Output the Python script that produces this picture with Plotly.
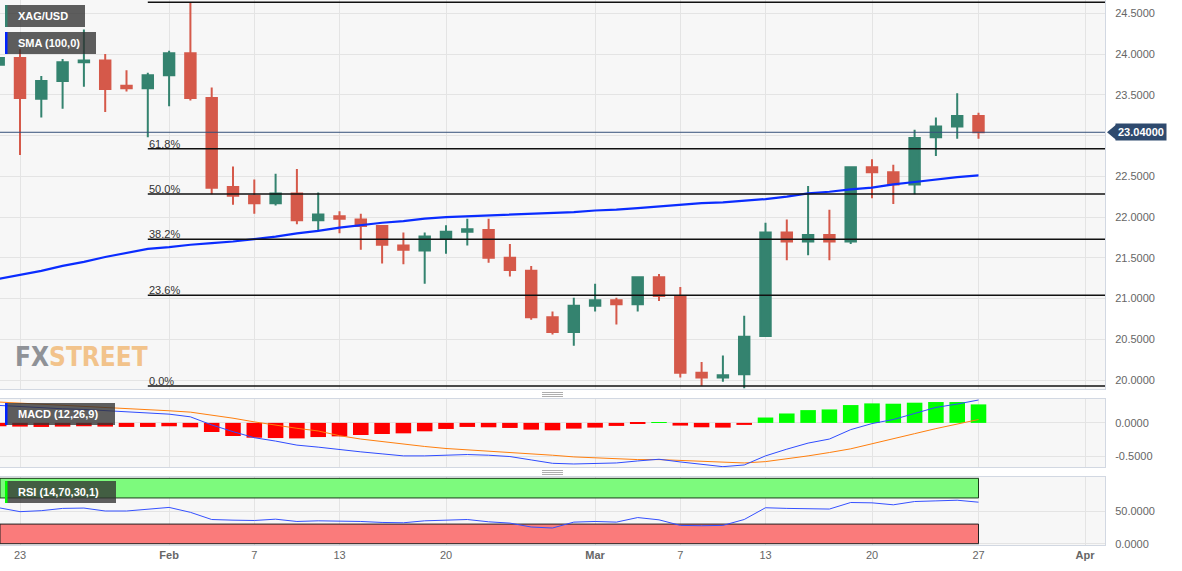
import plotly.graph_objects as go
import pandas as pd

# ---------------- data ----------------
dates = ["2023-01-20", "2023-01-23", "2023-01-24", "2023-01-25", "2023-01-26", "2023-01-27",
         "2023-01-30", "2023-01-31", "2023-02-01", "2023-02-02", "2023-02-03",
         "2023-02-06", "2023-02-07", "2023-02-08", "2023-02-09", "2023-02-10",
         "2023-02-13", "2023-02-14", "2023-02-15", "2023-02-16", "2023-02-17",
         "2023-02-20", "2023-02-21", "2023-02-22", "2023-02-23", "2023-02-24",
         "2023-02-27", "2023-02-28", "2023-03-01", "2023-03-02", "2023-03-03",
         "2023-03-06", "2023-03-07", "2023-03-08", "2023-03-09", "2023-03-10",
         "2023-03-13", "2023-03-14", "2023-03-15", "2023-03-16", "2023-03-17",
         "2023-03-20", "2023-03-21", "2023-03-22", "2023-03-23", "2023-03-24",
         "2023-03-27"]

open_ = [23.87, 23.95, 23.45, 23.67, 23.90, 23.92, 23.61, 23.58, 23.74, 24.01, 23.46,
         22.37, 22.26, 22.17, 22.29, 21.96, 22.01, 21.97, 21.89, 21.65, 21.59,
         21.73, 21.82, 21.84, 21.50, 21.34, 20.77, 20.59, 20.91, 20.98, 20.93,
         21.26, 21.02, 20.09, 20.03, 20.07, 20.54, 21.81, 21.70, 21.78, 21.70,
         22.61, 22.55, 22.40, 22.98, 23.11, 23.24]
high = [24.07, 24.06, 23.73, 23.94, 24.30, 24.00, 23.80, 23.77, 24.04, 24.635, 23.59,
        22.62, 22.46, 22.53, 22.59, 22.30, 22.07, 22.04, 21.90, 21.81, 21.81,
        21.90, 21.98, 21.98, 21.67, 21.40, 20.84, 21.01, 21.18, 21.01, 21.27,
        21.30, 21.14, 20.22, 20.30, 20.79, 21.93, 21.97, 22.38, 22.09, 22.62,
        22.71, 22.64, 23.07, 23.22, 23.52, 23.28]
low = [23.71, 22.76, 23.22, 23.33, 23.60, 23.29, 23.54, 22.98, 23.36, 23.43, 22.28,
       22.15, 22.04, 22.14, 21.91, 21.84, 21.80, 21.60, 21.43, 21.42, 21.18,
       21.55, 21.65, 21.44, 21.27, 20.74, 20.56, 20.42, 20.84, 20.68, 20.84,
       20.97, 20.03, 19.93, 19.98, 19.90, 20.53, 21.47, 21.53, 21.47, 21.67,
       22.23, 22.16, 22.28, 22.75, 22.96, 22.96]
close = [23.95, 23.46, 23.67, 23.90, 23.92, 23.57, 23.58, 23.74, 24.01, 23.46, 22.36,
         22.26, 22.17, 22.29, 21.96, 22.03, 21.98, 21.89, 21.66, 21.60, 21.76,
         21.82, 21.85, 21.50, 21.35, 20.77, 20.59, 20.91, 20.98, 20.93, 21.26,
         21.03, 20.09, 20.03, 20.06, 20.53, 21.81, 21.70, 21.78, 21.70, 22.61,
         22.55, 22.40, 22.97, 23.11, 23.24, 23.04]

sma100 = [21.24, 21.29, 21.34, 21.40, 21.45, 21.51, 21.56, 21.61, 21.63, 21.66, 21.68,
          21.70, 21.73, 21.76, 21.80, 21.83, 21.87, 21.90, 21.93, 21.95, 21.98,
          22.00, 22.01, 22.02, 22.03, 22.04, 22.05, 22.06, 22.08, 22.09, 22.11,
          22.13, 22.15, 22.17, 22.18, 22.20, 22.22, 22.25, 22.29, 22.31, 22.34,
          22.36, 22.40, 22.43, 22.46, 22.49, 22.51]

macd_line = [0.26, 0.24, 0.22, 0.21, 0.20, 0.18, 0.16, 0.14, 0.13, 0.09, -0.03,
             -0.13, -0.22, -0.27, -0.33, -0.36, -0.40, -0.43, -0.46, -0.49, -0.49,
             -0.48, -0.47, -0.48, -0.50, -0.55, -0.60, -0.61, -0.60, -0.595, -0.565,
             -0.54, -0.58, -0.62, -0.65, -0.625, -0.49, -0.39, -0.30, -0.24, -0.10,
             -0.01, 0.05, 0.14, 0.23, 0.28, 0.34]
signal_line = [0.31, 0.295, 0.28, 0.265, 0.25, 0.235, 0.22, 0.20, 0.18, 0.16, 0.12,
               0.07, 0.015, -0.035, -0.08, -0.12, -0.19, -0.24, -0.28, -0.31, -0.35,
               -0.38, -0.40, -0.415, -0.43, -0.45, -0.48, -0.505, -0.52, -0.535, -0.545,
               -0.545, -0.56, -0.575, -0.59, -0.595, -0.575, -0.535, -0.49, -0.44, -0.385,
               -0.31, -0.24, -0.16, -0.085, -0.015, 0.05]
macd_hist = [-0.05, -0.055, -0.06, -0.055, -0.05, -0.055, -0.06, -0.06, -0.05, -0.065, -0.135,
             -0.195, -0.22, -0.225, -0.23, -0.21, -0.20, -0.18, -0.165, -0.155, -0.125,
             -0.09, -0.06, -0.065, -0.075, -0.10, -0.11, -0.085, -0.07, -0.045, -0.01,
             0.005, -0.04, -0.065, -0.07, -0.03, 0.08, 0.14, 0.19, 0.20, 0.265,
             0.29, 0.285, 0.30, 0.31, 0.31, 0.275]

rsi = [55, 49, 50.5, 54, 54.5, 50, 50, 52.5, 55.5, 48, 37,
       36, 35.5, 37.5, 34, 35, 35, 34, 32.5, 32, 35,
       36.5, 37, 33.5, 31.5, 25.5, 24, 33, 34, 33, 40,
       36.5, 28, 27.5, 28, 37, 55, 54, 54, 53, 63,
       62.5, 59.5, 64.5, 65.5, 66.5, 63.5]

fib_levels = [24.635, 22.838, 22.282, 21.727, 21.040, 19.927]
fib_labels = ["", "61.8%", "50.0%", "38.2%", "23.6%", "0.0%"]
fib_start = "2023-01-31"
last_price = 23.04

tick_dates = ["2023-01-23", "2023-02-01", "2023-02-07", "2023-02-13", "2023-02-20",
              "2023-03-01", "2023-03-07", "2023-03-13", "2023-03-20", "2023-03-27", "2023-04-03"]
tick_text = ["23", "<b>Feb</b>", "7", "13", "20", "<b>Mar</b>", "7", "13", "20", "27", "<b>Apr</b>"]

main_ticks = [20.0, 20.5, 21.0, 21.5, 22.0, 22.5, 23.0, 23.5, 24.0, 24.5]
main_tick_text = ["20.0000", "20.5000", "21.0000", "21.5000", "22.0000", "22.5000", "",
                  "23.5000", "24.0000", "24.5000"]
macd_ticks = [-0.5, 0.0]
rsi_ticks = [0, 50]

# ---------------- layout helpers ----------------
W, H = 1182, 571
ML, MR, MT, MB = 0, 77, 0, 26
PW, PH = W - ML - MR, H - MT - MB
noon = pd.Timedelta(hours=12)
x = pd.to_datetime(dates) + noon
xt = pd.to_datetime(tick_dates) + noon
x_range = [pd.Timestamp("2023-01-20 13:28"), pd.Timestamp("2023-04-04 10:32")]


def px_x(p):
    return p / PW


def px_y(p):
    return (PH - p) / PH


dom_main = [px_y(389), 1.0]
dom_macd = [px_y(467), px_y(399)]
dom_rsi = [0.0, px_y(476.5)]
rng_main = [19.890, 24.663]
rng_macd = [-0.655, 0.355]
rng_rsi = [-2.0, 102.8]

TEAL = "#34836f"
RED = "#d5594a"
GRID = "#e4e4e4"
BORDER = "#d2d8e2"
TICKC = "#666666"
FONT = "Liberation Sans, Arial, sans-serif"

fig = go.Figure()

fig.add_trace(go.Candlestick(
    x=x, open=open_, high=high, low=low, close=close,
    increasing=dict(line=dict(color=TEAL, width=2), fillcolor=TEAL),
    decreasing=dict(line=dict(color=RED, width=2), fillcolor=RED),
    whiskerwidth=0, xaxis="x", yaxis="y", showlegend=False, hoverinfo="skip"))

fig.add_trace(go.Scatter(x=x, y=sma100, mode="lines", line=dict(color="#0a2cff", width=2.2),
                         xaxis="x", yaxis="y", showlegend=False, hoverinfo="skip"))

hist_colors = ["#00ff00" if v >= 0 else "#ff0000" for v in macd_hist]
fig.add_trace(go.Bar(x=x, y=macd_hist, marker=dict(color=hist_colors, line=dict(width=0)),
                     xaxis="x", yaxis="y2", showlegend=False, hoverinfo="skip"))
fig.add_trace(go.Scatter(x=x, y=signal_line, mode="lines", line=dict(color="#ff7f0e", width=1),
                         xaxis="x", yaxis="y2", showlegend=False, hoverinfo="skip"))
fig.add_trace(go.Scatter(x=x, y=macd_line, mode="lines", line=dict(color="#2f4cff", width=1),
                         xaxis="x", yaxis="y2", showlegend=False, hoverinfo="skip"))

fig.add_trace(go.Scatter(x=x, y=rsi, mode="lines", line=dict(color="#3550ff", width=1),
                         xaxis="x", yaxis="y3", showlegend=False, hoverinfo="skip"))

shapes = []
annotations = []

# RSI zones
shapes.append(dict(type="rect", xref="x", yref="y3", x0=x_range[0], x1=x[-1], y0=70, y1=100,
                   fillcolor="#7dfa7d", line=dict(color="#1d3d1d", width=1), layer="between"))
shapes.append(dict(type="rect", xref="x", yref="y3", x0=x_range[0], x1=x[-1], y0=0, y1=30,
                   fillcolor="#fa7b7b", line=dict(color="#222222", width=1), layer="between"))

# Fibonacci lines and labels
for lvl, lab in zip(fib_levels, fib_labels):
    shapes.append(dict(type="line", xref="x", yref="y", x0=pd.Timestamp(fib_start) + noon,
                       x1=x_range[1], y0=lvl, y1=lvl, line=dict(color="#111111", width=1.4)))
    if lab:
        annotations.append(dict(xref="x", yref="y", x=pd.Timestamp(fib_start) + noon, y=lvl,
                                text=lab, showarrow=False, xanchor="left", yanchor="bottom",
                                xshift=-1, yshift=-3,
                                font=dict(family=FONT, size=11, color="#333333")))

# last price line + label
shapes.append(dict(type="line", xref="paper", yref="y", x0=0, x1=1, y0=last_price, y1=last_price,
                   line=dict(color="#34507a", width=1)))
lp_paper = dom_main[0] + (last_price - rng_main[0]) / (rng_main[1] - rng_main[0]) * (dom_main[1] - dom_main[0])
shapes.append(dict(type="path", xref="paper", yref="paper", xsizemode="pixel", ysizemode="pixel",
                   xanchor=1, yanchor=lp_paper, path="M 2 0 L 11 7.5 L 11 -7.5 Z",
                   fillcolor="#2e4a6e", line=dict(width=0)))
annotations.append(dict(xref="paper", yref="y", x=1, y=last_price, xanchor="left", yanchor="middle",
                        xshift=10, text="<b>23.04000</b>", showarrow=False, bgcolor="#2e4a6e",
                        borderpad=2, font=dict(family=FONT, size=11, color="white")))

# label boxes
boxes = [("XAG/USD", 5, 85, 5, 27, TEAL),
         ("SMA (100,0)", 5, 96, 32, 54, "#0022ff"),
         ("MACD (12,26,9)", 5, 115, 403, 425, "#0022ff"),
         ("RSI (14,70,30,1)", 5, 116, 481, 503, "#00ff00")]
for txt, bx0, bx1, by0, by1, mc in boxes:
    shapes.append(dict(type="rect", xref="paper", yref="paper", x0=px_x(bx0), x1=px_x(bx1),
                       y0=px_y(by1), y1=px_y(by0), fillcolor="rgba(50,50,50,0.78)",
                       line=dict(width=0)))
    shapes.append(dict(type="rect", xref="paper", yref="paper", x0=px_x(bx0), x1=px_x(bx0 + 2.5),
                       y0=px_y(by1), y1=px_y(by0), fillcolor=mc, line=dict(width=0)))
    annotations.append(dict(xref="paper", yref="paper", x=px_x(16), y=px_y((by0 + by1) / 2),
                            xanchor="left", yanchor="middle", text="<b>" + txt + "</b>",
                            showarrow=False, font=dict(family=FONT, size=11, color="white")))

# panel separators
for yy in [392.5, 394.5, 396.5, 470.5, 472.5, 474.5]:
    shapes.append(dict(type="line", xref="paper", yref="paper", x0=px_x(542), x1=px_x(563),
                       y0=px_y(yy), y1=px_y(yy), line=dict(color="#999999", width=0.8)))

# watermark
annotations.append(dict(xref="paper", yref="paper", x=px_x(13), y=px_y(357), xanchor="left",
                        yanchor="middle", showarrow=False,
                        text="<b><span style='color:#8f9297'>FX</span><span style='color:#f2c38b'>STREET</span></b>",
                        font=dict(family="Liberation Sans Narrow, DejaVu Sans Condensed, sans-serif", size=26)))

yaxis_common = dict(side="right", showgrid=True, gridcolor=GRID, zeroline=False, showline=True,
                    linecolor=BORDER, mirror=True, ticks="", ticklabelstandoff=7,
                    tickfont=dict(family=FONT, size=11, color=TICKC), anchor="x", fixedrange=True)

fig.update_layout(
    width=W, height=H, margin=dict(l=ML, r=MR, t=MT, b=MB),
    paper_bgcolor="white", plot_bgcolor="#f7f7f7",
    bargap=0.27, showlegend=False, dragmode=False,
    xaxis=dict(type="date", domain=[0, 1], anchor="y3", range=x_range,
               rangebreaks=[dict(bounds=["sat", "mon"])], rangeslider=dict(visible=False),
               tickvals=xt, ticktext=tick_text, showgrid=True, gridcolor=GRID, zeroline=False,
               showline=True, linecolor=BORDER, mirror="all", ticks="",
               tickfont=dict(family=FONT, size=11, color=TICKC)),
    yaxis=dict(domain=dom_main, range=rng_main, tickvals=main_ticks,
               ticktext=main_tick_text, **yaxis_common),
    yaxis2=dict(domain=dom_macd, range=rng_macd, tickvals=macd_ticks,
                ticktext=[f"{v:.4f}" for v in macd_ticks], **yaxis_common),
    yaxis3=dict(domain=dom_rsi, range=rng_rsi, tickvals=rsi_ticks,
                ticktext=[f"{v:.4f}" for v in rsi_ticks], **yaxis_common),
    shapes=shapes, annotations=annotations,
)

fig.write_html("out.html", config=dict(displayModeBar=False),
               post_script="document.body.style.margin='0';document.body.style.overflow='hidden';")
